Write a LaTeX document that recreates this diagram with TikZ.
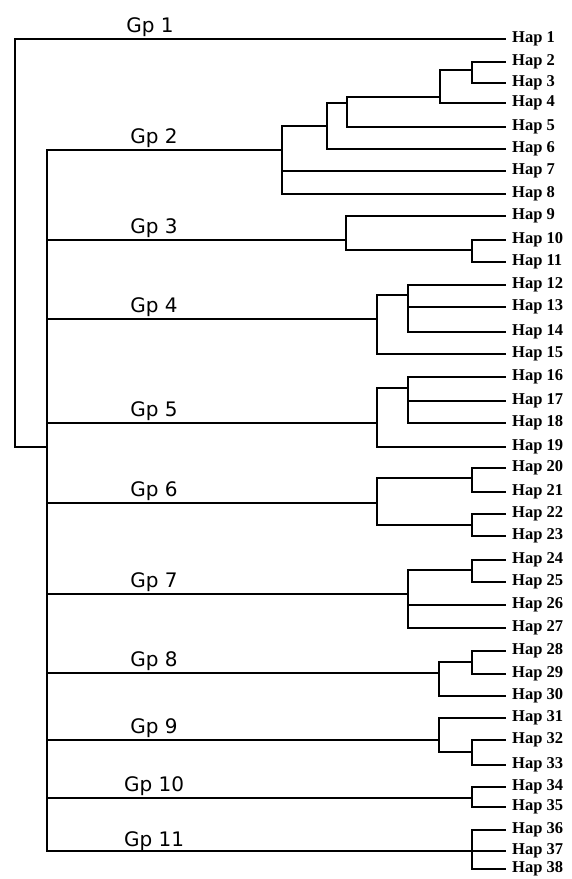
\documentclass[tikz,border=0pt]{standalone}
\usepackage{fontspec}
\setmainfont{Liberation Serif}
\newfontfamily\grpfont{DejaVu Sans}
\usetikzlibrary{positioning}

\tikzset{
  hap/.style={anchor=west,inner xsep=7pt,inner ysep=0pt,
    font=\fontsize{16.5}{18}\selectfont\bfseries},
  grp/.style={anchor=base,inner sep=0pt,font=\grpfont\fontsize{20}{22}\selectfont},
  br/.style={line width=1.1pt},
  brb/.style={line width=1.7pt}
}

\begin{document}
\begin{tikzpicture}[x=1pt,y=-1pt,line cap=rect]
  \useasboundingbox (0,0) rectangle (572,879);

  % haplotypes (leaves)
  \foreach \i/\y in {1/39,2/62,3/83,4/103,5/127,6/149,7/171,8/194,
      9/216,10/240,11/262,12/285,13/307,14/332,15/354,
      16/377,17/401,18/423,19/447,20/468,21/492,22/514,23/536,
      24/560,25/582,26/605,27/628,28/651,29/674,30/696,
      31/718,32/740,33/765,34/787,35/807,36/830,37/851,38/869}
    \node[hap] (h\i) at (505,\y) {Hap \i};

  % group labels
  \node[grp] (gl1) at (150,32) {Gp 1};
  \foreach \i/\y in {2/150,3/240,4/319,5/423,6/503,7/594,8/673,9/740,10/798,11/853}
    \node[grp] (gl\i) at (154,\y-7) {Gp \i};

  % inner nodes
  \coordinate (root) at (15,447);
  \coordinate (mc) at (47,447);
  \coordinate (g2) at (282,150);
  \coordinate (a2) at (327,126);
  \coordinate (b2) at (347,103);
  \coordinate (c2) at (440,97);
  \coordinate (d2) at (472,70);
  \coordinate (g3) at (346,240);
  \coordinate (e3) at (472,250);
  \coordinate (g4) at (377,319);
  \coordinate (f4) at (408,295);
  \coordinate (g5) at (377,423);
  \coordinate (f5) at (408,388);
  \coordinate (g6) at (377,503);
  \coordinate (k6) at (472,478);
  \coordinate (l6) at (472,525);
  \coordinate (g7) at (408,594);
  \coordinate (n7) at (472,570);
  \coordinate (g8) at (439,673);
  \coordinate (p8) at (472,662);
  \coordinate (g9) at (439,740);
  \coordinate (r9) at (472,752);
  \coordinate (g10) at (472,798);
  \coordinate (g11) at (472,851);

  % root and main clade
  \draw[br] (root) |- (h1.west);
  \draw[br] (root) -- (mc);
  \draw[brb] (mc) |- (g2) (mc) |- (g4) (mc) |- (g6) (mc) |- (g8)
    (mc) |- (g9) (mc) |- (g11);
  \draw[br] (mc) |- (g3) (mc) |- (g5) (mc) |- (g7) (mc) |- (g10);

  % Gp 2
  \draw[br] (g2) |- (a2) (g2) |- (h7.west) (g2) |- (h8.west);
  \draw[br] (a2) |- (b2) (a2) |- (h6.west);
  \draw[br] (b2) |- (c2) (b2) |- (h5.west);
  \draw[br] (c2) |- (d2) (c2) |- (h4.west);
  \draw[br] (d2) |- (h2.west) (d2) |- (h3.west);

  % Gp 3
  \draw[br] (g3) |- (h9.west) (g3) |- (e3);
  \draw[br] (e3) |- (h10.west) (e3) |- (h11.west);

  % Gp 4
  \draw[br] (g4) |- (f4) (g4) |- (h15.west);
  \draw[br] (f4) |- (h12.west) (f4) |- (h13.west) (f4) |- (h14.west);

  % Gp 5
  \draw[br] (g5) |- (f5) (g5) |- (h19.west);
  \draw[br] (f5) |- (h16.west) (f5) |- (h17.west) (f5) |- (h18.west);

  % Gp 6
  \draw[br] (g6) |- (k6) (g6) |- (l6);
  \draw[br] (k6) |- (h20.west) (k6) |- (h21.west);
  \draw[br] (l6) |- (h22.west) (l6) |- (h23.west);

  % Gp 7
  \draw[br] (g7) |- (n7) (g7) |- (h26.west) (g7) |- (h27.west);
  \draw[br] (n7) |- (h24.west) (n7) |- (h25.west);

  % Gp 8
  \draw[br] (g8) |- (p8) (g8) |- (h30.west);
  \draw[br] (p8) |- (h28.west) (p8) |- (h29.west);

  % Gp 9
  \draw[br] (g9) |- (h31.west) (g9) |- (r9);
  \draw[br] (r9) |- (h32.west) (r9) |- (h33.west);

  % Gp 10 and Gp 11
  \draw[br] (g10) |- (h34.west) (g10) |- (h35.west);
  \draw[br] (g11) |- (h36.west) (g11) |- (h37.west) (g11) |- (h38.west);
\end{tikzpicture}
\end{document}
